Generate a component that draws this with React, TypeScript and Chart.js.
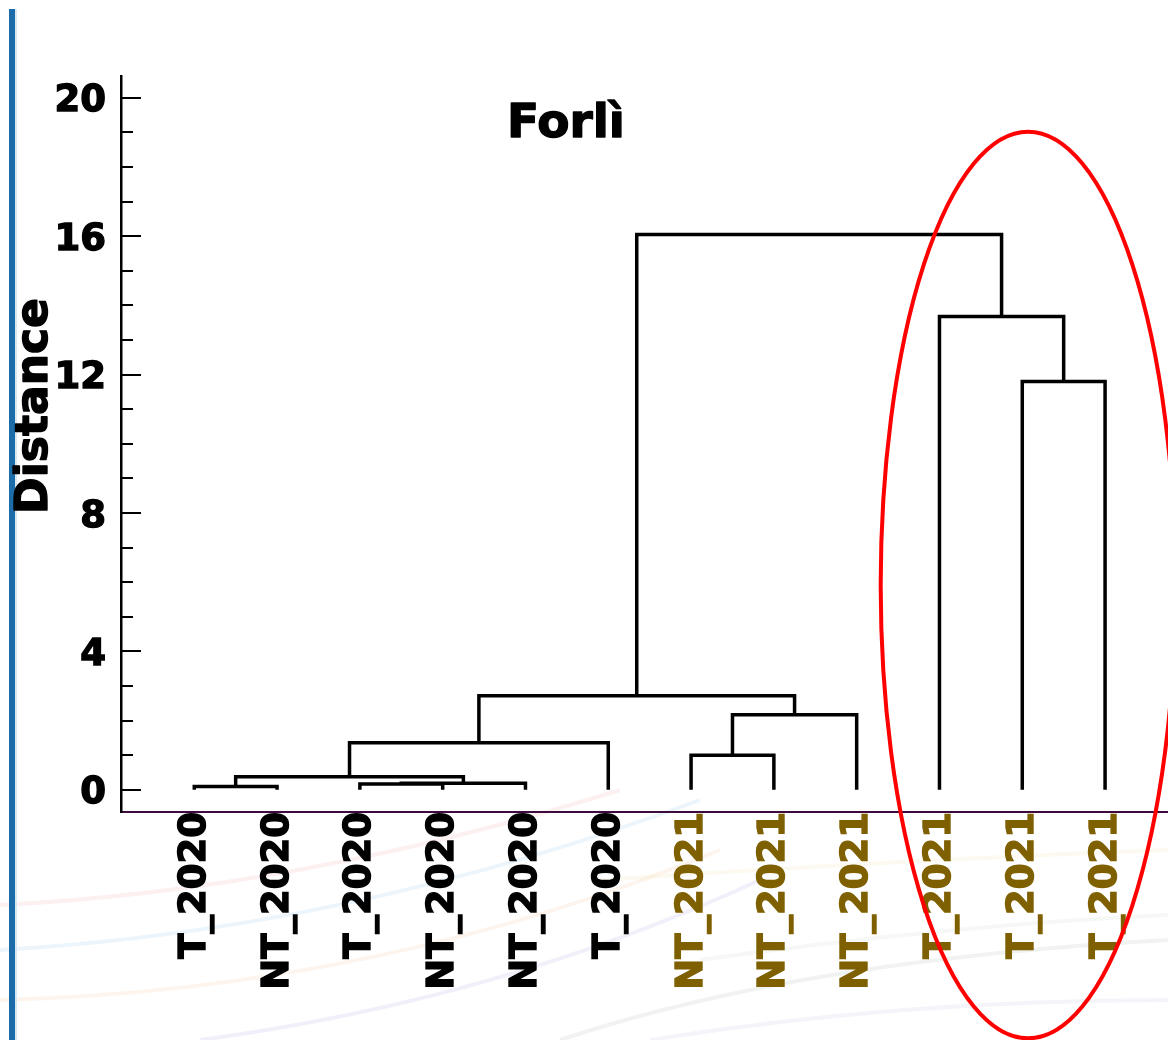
import React, { useEffect, useRef } from "react";
import { Chart, registerables } from "chart.js";

Chart.register(...registerables);

// ---- data ----
const leafLabels = [
  "T_2020", "NT_2020", "T_2020", "NT_2020", "NT_2020", "T_2020",
  "NT_2021", "NT_2021", "NT_2021", "T_2021", "T_2021", "T_2021",
];
const leafYears = [2020, 2020, 2020, 2020, 2020, 2020, 2021, 2021, 2021, 2021, 2021, 2021];
// linkage: indices < 12 are leaves, >= 12 refer to earlier merges (12 + k)
const mergeLeft = [0, 2, 13, 12, 15, 6, 17, 16, 10, 9, 19];
const mergeRight = [1, 3, 4, 14, 5, 7, 8, 18, 11, 20, 21];
const mergeHeight = [0.1, 0.17, 0.19, 0.38, 1.36, 1.0, 2.17, 2.72, 11.8, 13.68, 16.05];
const yTickValues = [0, 4, 8, 12, 16, 20];
const yMinorTickValues = [0, 1, 2, 3, 4, 5, 6, 7, 8, 9, 10, 11, 12, 13, 14, 15, 16, 17, 18, 19, 20];
const chartTitle = "Forlì";
const yAxisTitle = "Distance";
// highlighted group (ellipse), in data units
const highlightCenter = [10.07, 5.92];
const highlightRadius = [1.78, 13.1];

const FONT = '"DejaVu Sans", Verdana, sans-serif';
const COLOR_2020 = "#000000";
const COLOR_2021 = "#7f6000";

function buildLinks() {
  const pos: number[] = leafLabels.map((_, i) => i);
  const hgt: number[] = leafLabels.map(() => 0);
  const sets: any[] = [];
  mergeLeft.forEach((a, k) => {
    const b = mergeRight[k];
    const h = mergeHeight[k];
    const xa = pos[a];
    const xb = pos[b];
    sets.push({
      data: [
        { x: xa, y: hgt[a] },
        { x: xa, y: h },
        { x: xb, y: h },
        { x: xb, y: hgt[b] },
      ],
      borderColor: "#000000",
      borderWidth: 3.5,
      pointRadius: 0,
      tension: 0,
      fill: false,
      borderJoinStyle: "miter",
      borderCapStyle: "butt",
    });
    pos.push((xa + xb) / 2);
    hgt.push(h);
  });
  return sets;
}

const decorPlugin = {
  id: "decor",
  beforeDraw(chart: any) {
    const ctx = chart.ctx;
    const W = chart.width;
    const H = chart.height;
    ctx.save();
    ctx.fillStyle = "#ffffff";
    ctx.fillRect(0, 0, W, H);
    // faint background swooshes
    const curves: [string, number[]][] = [
      ["rgba(240,160,170,0.16)", [0, 905, 300, 890, 620, 790]],
      ["rgba(150,200,235,0.18)", [0, 950, 350, 930, 700, 800]],
      ["rgba(245,190,140,0.16)", [0, 1000, 380, 990, 720, 850]],
      ["rgba(180,170,225,0.18)", [200, 1040, 500, 1000, 760, 880]],
      ["rgba(170,190,170,0.18)", [560, 1040, 800, 960, 1168, 940]],
      ["rgba(240,230,170,0.18)", [600, 880, 900, 860, 1168, 850]],
      ["rgba(200,200,230,0.20)", [650, 1040, 900, 1000, 1168, 1000]],
      ["rgba(200,215,200,0.18)", [700, 960, 950, 925, 1168, 915]],
    ];
    ctx.lineWidth = 4;
    curves.forEach(([c, p]) => {
      ctx.strokeStyle = c;
      ctx.beginPath();
      ctx.moveTo(p[0], p[1]);
      ctx.quadraticCurveTo(p[2], p[3], p[4], p[5]);
      ctx.stroke();
    });
    // blue side bar
    ctx.fillStyle = "#1b6ca8";
    ctx.fillRect(9, 9, 6, H - 9);
    ctx.fillStyle = "#d6e8f3";
    ctx.fillRect(15, 9, 2, H - 9);
    ctx.restore();
  },
  afterDraw(chart: any) {
    const ctx = chart.ctx;
    const xs = chart.scales.x;
    const ys = chart.scales.y;
    const left = chart.chartArea.left;
    ctx.save();
    // inward y ticks (major and minor)
    ctx.strokeStyle = "#000";
    ctx.lineWidth = 2;
    yMinorTickValues.forEach((v) => {
      const y = Math.round(ys.getPixelForValue(v));
      const len = v % 4 === 0 ? 20 : 12;
      ctx.beginPath();
      ctx.moveTo(left, y);
      ctx.lineTo(left + len, y);
      ctx.stroke();
    });
    // title
    ctx.fillStyle = "#000";
    ctx.strokeStyle = "#000";
    ctx.lineWidth = 1.4;
    ctx.lineJoin = "round";
    ctx.font = `bold 47px ${FONT}`;
    ctx.textAlign = "center";
    ctx.textBaseline = "alphabetic";
    ctx.fillText(chartTitle, 566, 137);
    ctx.strokeText(chartTitle, 566, 137);
    // y axis title
    ctx.save();
    ctx.translate(47, 406);
    ctx.rotate(-Math.PI / 2);
    ctx.font = `bold 44px ${FONT}`;
    ctx.textAlign = "center";
    ctx.textBaseline = "alphabetic";
    ctx.fillText(yAxisTitle, 0, 0);
    ctx.strokeText(yAxisTitle, 0, 0);
    ctx.restore();
    // highlight ellipse
    const cx = xs.getPixelForValue(highlightCenter[0]);
    const cy = ys.getPixelForValue(highlightCenter[1]);
    const rx = Math.abs(xs.getPixelForValue(highlightCenter[0] + highlightRadius[0]) - cx);
    const ry = Math.abs(ys.getPixelForValue(highlightCenter[1] + highlightRadius[1]) - cy);
    ctx.strokeStyle = "#ff0000";
    ctx.lineWidth = 4;
    ctx.beginPath();
    ctx.ellipse(cx, cy, rx, ry, 0, 0, Math.PI * 2);
    ctx.stroke();
    ctx.restore();
  },
};

export default function App() {
  const ref = useRef<HTMLCanvasElement | null>(null);
  useEffect(() => {
    if (!ref.current) return;
    const chart = new Chart(ref.current, {
      type: "line",
      data: { datasets: buildLinks() },
      options: {
        animation: false,
        responsive: false,
        devicePixelRatio: 1,
        layout: { padding: { top: 76, left: 0, right: 0, bottom: 0 } },
        plugins: {
          legend: { display: false },
          tooltip: { enabled: false },
          title: { display: false },
        },
        scales: {
          x: {
            type: "linear",
            min: -0.885,
            max: 11.76,
            afterBuildTicks: (s: any) => {
              s.ticks = leafLabels.map((_, i) => ({ value: i }));
            },
            afterFit: (s: any) => {
              s.height = 228;
            },
            grid: { display: false, drawTicks: false },
            border: { display: true, color: "#3c0a3c", width: 2 },
            ticks: {
              autoSkip: false,
              maxRotation: 90,
              minRotation: 90,
              padding: 0,
              labelOffset: 1,
              font: { family: FONT, size: 37, weight: "bold" },
              color: (c: any) => (leafYears[c.index] === 2021 ? COLOR_2021 : COLOR_2020),
              textStrokeColor: (c: any) => (leafYears[c.index] === 2021 ? COLOR_2021 : COLOR_2020),
              textStrokeWidth: 1.4,
              callback: (v: any) => leafLabels[v as number] ?? "",
            },
          },
          y: {
            type: "linear",
            min: -0.64,
            max: 20.63,
            afterBuildTicks: (s: any) => {
              s.ticks = yTickValues.map((v) => ({ value: v }));
            },
            afterFit: (s: any) => {
              s.width = 121;
            },
            grid: { display: false, drawTicks: false },
            border: { display: true, color: "#000000", width: 2.5 },
            ticks: {
              padding: 15,
              labelOffset: 4,
              font: { family: FONT, size: 37, weight: "bold" },
              color: "#000000",
              textStrokeColor: "#000000",
              textStrokeWidth: 1.4,
              callback: (v: any) => String(v),
            },
          },
        },
      } as any,
      plugins: [decorPlugin],
    });
    return () => chart.destroy();
  }, []);
  return (
    <div style={{ position: "absolute", left: 0, top: 0, width: 1168, height: 1040 }}>
      <canvas ref={ref} width={1168} height={1040} style={{ width: 1168, height: 1040, display: "block" }} />
    </div>
  );
}
